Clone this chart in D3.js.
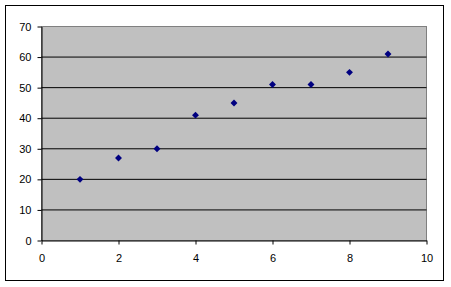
<!DOCTYPE html>
<html>
<head>
<meta charset="utf-8">
<script src="https://cdn.jsdelivr.net/npm/d3@7"></script>
<style>
  body { margin: 0; background: #fff; }
  svg text { font-family: "Liberation Sans", Arial, sans-serif; font-size: 11px; fill: #000; }
</style>
</head>
<body>
<svg id="drawing_region"></svg>
<script>
var x_values = [1, 2, 3, 4, 5, 6, 7, 8, 9];
var y_values = [20, 27, 30, 41, 45, 51, 51, 55, 61];
var x_ticks = [0, 2, 4, 6, 8, 10];
var y_ticks = [0, 10, 20, 30, 40, 50, 60, 70];

var data = x_values.map((x, i) => ({ x: x, y: y_values[i] }));

var config = {
    width: 451,
    height: 287,
    plot: { left: 41.5, right: 426.5, top: 26.5, bottom: 240.5 }
};
var plot = config.plot;

var svg = d3.select('#drawing_region')
    .attr('width', config.width)
    .attr('height', config.height);

// outer chart border
svg.append('rect')
    .attr('x', 5.5).attr('y', 5.5)
    .attr('width', 438).attr('height', 275)
    .attr('fill', 'none')
    .attr('stroke', '#000');

var xscale = d3.scaleLinear().domain([0, 10]).range([plot.left, plot.right]);
var yscale = d3.scaleLinear().domain([0, 70]).range([plot.bottom, plot.top]);

// plot area
svg.append('rect')
    .attr('x', plot.left).attr('y', plot.top)
    .attr('width', plot.right - plot.left).attr('height', plot.bottom - plot.top)
    .attr('fill', '#c0c0c0')
    .attr('stroke', '#808080');

// gridlines
svg.append('g')
    .selectAll('line')
    .data(y_ticks.slice(1, -1))
    .join('line')
    .attr('x1', plot.left).attr('x2', plot.right)
    .attr('y1', d => yscale(d)).attr('y2', d => yscale(d))
    .attr('stroke', '#000');

// axes
var xaxis = d3.axisBottom(xscale)
    .tickValues(x_ticks)
    .tickSize(4)
    .tickPadding(10)
    .tickSizeOuter(0);

var yaxis = d3.axisLeft(yscale)
    .tickValues(y_ticks)
    .tickSize(4)
    .tickPadding(6)
    .tickSizeOuter(0);

svg.append('g')
    .attr('transform', `translate(0, ${plot.bottom})`)
    .call(xaxis);

svg.append('g')
    .attr('transform', `translate(${plot.left}, 0)`)
    .call(yaxis);

svg.selectAll('.domain').attr('stroke', '#000');
svg.selectAll('.tick line').attr('stroke', '#000');
svg.selectAll('.tick text').attr('font-size', null).attr('font-family', null);

// markers
svg.append('g')
    .selectAll('path')
    .data(data)
    .join('path')
    .attr('d', d3.symbol().type(d3.symbolSquare).size(24))
    .attr('transform', d => `translate(${xscale(d.x)}, ${yscale(d.y)}) rotate(45)`)
    .attr('fill', '#000080');
</script>
</body>
</html>
